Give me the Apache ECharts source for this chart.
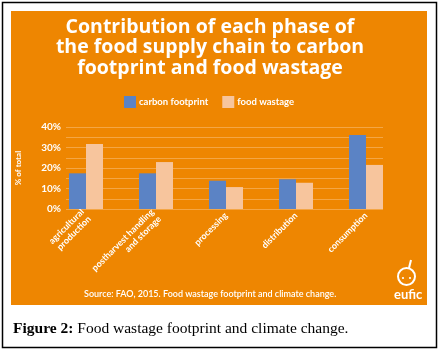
<!DOCTYPE html>
<html>
<head>
<meta charset="utf-8">
<script src="https://cdn.jsdelivr.net/npm/echarts@6/dist/echarts.min.js"></script>
<style>
  html, body { margin: 0; padding: 0; background: #fff; }
  #chart { width: 441px; height: 357px; }
</style>
</head>
<body>
<div id="chart"></div>
<script>
const phases = ['agricultural\nproduction', 'postharvest handling\nand storage', 'processing', 'distribution', 'consumption'];
const carbonFootprint = [17.4, 17.4, 13.8, 14.5, 36.1];
const foodWastage = [31.7, 22.9, 10.7, 12.8, 21.5];

const orange = '#ee8601';
const white = '#fff';

const chart = echarts.init(document.getElementById('chart'));
const option = {
    animation: false,
    backgroundColor: '#fff',
    title: {
        text: 'Contribution of each phase of\nthe food supply chain to carbon\nfootprint and food wastage',
        left: 210,
        top: 17,
        padding: 0,
        textAlign: 'center',
        textStyle: {
            color: white,
            fontFamily: 'Open Sans',
            fontWeight: 'bold',
            fontSize: 19.5,
            lineHeight: 20.5
        }
    },
    legend: {
        top: 96,
        left: 124,
        padding: 0,
        itemWidth: 12,
        itemHeight: 12,
        itemGap: 14,
        icon: 'rect',
        textStyle: { color: white, fontFamily: 'Lato', fontWeight: 'bold', fontSize: 9.5, padding: [0, 0, 0, -2] },
        data: ['carbon footprint', 'food wastage']
    },
    grid: [
        { left: 66, right: 58, top: 127, bottom: 148 },
        { left: 51, right: 40, top: 127, bottom: 148 }
    ],
    xAxis: [
        { type: 'category', gridIndex: 0, data: phases, show: false },
        {
            type: 'category',
            gridIndex: 1,
            data: phases,
            axisLine: { show: false },
            axisTick: { show: false },
            axisLabel: {
                interval: 0,
                rotate: 45,
                margin: 5,
                color: white,
                fontFamily: 'Lato',
                fontWeight: 'bold',
                fontSize: 9,
                lineHeight: 10
            }
        }
    ],
    yAxis: [
        {
            type: 'value',
            gridIndex: 0,
            min: 0,
            max: 40,
            interval: 5,
            name: '% of total',
            nameLocation: 'middle',
            nameGap: 44,
            nameTextStyle: { color: white, fontFamily: 'Lato', fontWeight: 'bold', fontSize: 8 },
            axisLine: { show: false },
            axisTick: { show: false },
            axisLabel: {
                margin: 5,
                color: white,
                fontFamily: 'Lato',
                fontWeight: 'bold',
                fontSize: 10,
                formatter: v => (v % 10 === 0 ? v + '%' : '')
            },
            splitLine: { lineStyle: { color: '#f4a645', width: 1 } }
        },
        { type: 'value', gridIndex: 1, min: 0, max: 40, show: false }
    ],
    series: [
        {
            name: 'carbon footprint',
            type: 'bar',
            xAxisIndex: 1,
            yAxisIndex: 1,
            barWidth: 17,
            barGap: '0%',
            itemStyle: { color: '#5b83c5' },
            data: carbonFootprint
        },
        {
            name: 'food wastage',
            type: 'bar',
            xAxisIndex: 1,
            yAxisIndex: 1,
            barWidth: 17,
            barGap: '0%',
            itemStyle: { color: '#f7c59d' },
            data: foodWastage
        }
    ],
    graphic: [
        {
            type: 'rect', z: -10, silent: true,
            shape: { x: 2.5, y: 2.5, width: 434, height: 345 },
            style: { fill: '#fff', stroke: '#000', lineWidth: 1.5 }
        },
        {
            type: 'rect', z: -9, silent: true,
            shape: { x: 11, y: 11, width: 416, height: 294 },
            style: { fill: orange }
        },
        {
            type: 'text', left: 84, top: 290, z: 10,
            style: {
                text: 'Source: FAO, 2015. Food wastage footprint and climate change.',
                fill: white, font: '600 9px Lato'
            }
        },
        // eufic logo
        {
            type: 'circle', z: 10,
            shape: { cx: 406.5, cy: 276.5, r: 8.5 },
            style: { fill: 'none', stroke: white, lineWidth: 2 }
        },
        {
            type: 'line', z: 10,
            shape: { x1: 409, y1: 268, x2: 411, y2: 260 },
            style: { stroke: white, lineWidth: 2 }
        },
        {
            type: 'circle', z: 10,
            shape: { cx: 403, cy: 278, r: 1.1 },
            style: { fill: white }
        },
        {
            type: 'circle', z: 10,
            shape: { cx: 410, cy: 278, r: 1.1 },
            style: { fill: white }
        },
        {
            type: 'text', z: 10, left: 394, top: 288,
            style: { text: 'eufic', fill: white, font: 'bold 13px Lato' }
        },
        // caption
        {
            type: 'text', left: 13, top: 321,
            style: {
                text: '{b|Figure 2:} Food wastage footprint and climate change.',
                rich: {
                    b: { fontFamily: 'Liberation Serif', fontWeight: 'bold', fontSize: 15.5, fill: '#000' }
                },
                fontFamily: 'Liberation Serif',
                fontSize: 15.5,
                fill: '#000'
            }
        }
    ]
};
chart.setOption(option);
</script>
</body>
</html>
